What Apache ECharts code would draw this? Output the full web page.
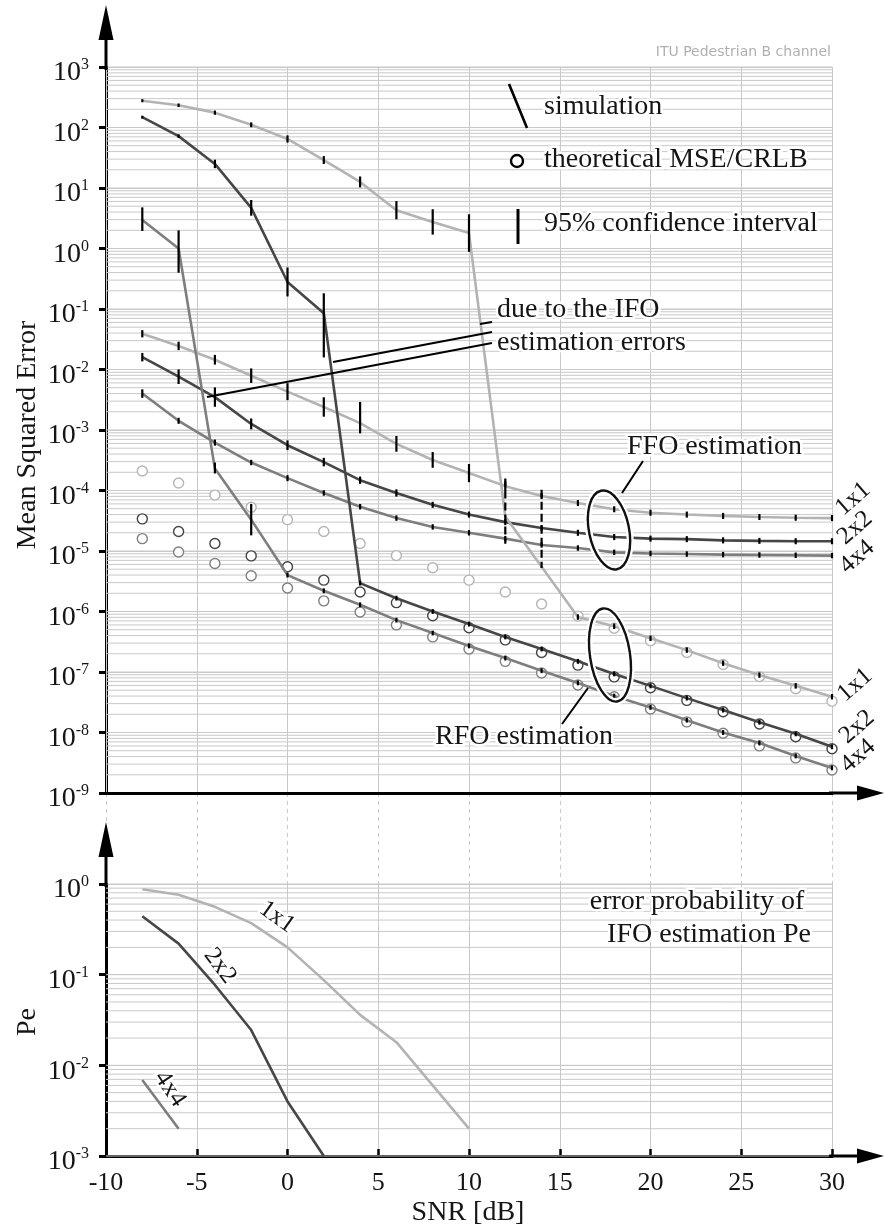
<!DOCTYPE html>
<html><head><meta charset="utf-8">
<script src="https://cdn.jsdelivr.net/npm/echarts@6/dist/echarts.min.js"></script>
<style>html,body{margin:0;padding:0;background:#fff}#c{width:884px;height:1229px}</style>
</head><body><div id="c"></div>
<script>
// ---------------- data ----------------
const snr = [-8,-6,-4,-2,0,2,4,6,8,10,12,14,16,18,20,22,24,26,28,30];
const xTicks = [-10,-5,0,5,10,15,20,25,30];

// RFO simulation (MSE)
const rfo1 = [277,233,176,111,64.6,29,12.6,4.3,2.75,1.8,3.7e-5,5.5e-6,8.1e-7,5.7e-7,3.6e-7,2.3e-7,1.4e-7,8.9e-8,5.9e-8,3.9e-8];
const rfo1Up = [0.025,0.03,0.035,0.04,0.06,0.065,0.09,0.15,0.21,0.31,0.63,1.27,0.045,0.045,0.045,0.045,0.045,0.045,0.045,0.045];
const rfo1Dn = [0.025,0.03,0.035,0.04,0.06,0.065,0.09,0.15,0.21,0.31,0.45,0.02,0.045,0.045,0.045,0.045,0.045,0.045,0.045,0.045];
const rfo1DashedAt = [12,14];
const rfo2 = [148,72,25,4.7,0.28,0.085,2.95e-6,1.66e-6,1.0e-6,6.2e-7,3.8e-7,2.4e-7,1.5e-7,9.3e-8,5.9e-8,3.7e-8,2.35e-8,1.48e-8,9.5e-9,5.8e-9];
const rfo2Up = [0.025,0.03,0.07,0.13,0.24,0.33,0.04,0.04,0.04,0.04,0.04,0.04,0.04,0.04,0.04,0.04,0.04,0.04,0.04,0.04];
const rfo2Dn = [0.025,0.03,0.07,0.13,0.24,0.73,0.04,0.04,0.04,0.04,0.04,0.04,0.04,0.04,0.04,0.04,0.04,0.04,0.04,0.04];
const rfo4 = [2.95,1.0,2.3e-4,3.3e-5,4.0e-6,2.2e-6,1.29e-6,7.2e-7,4.4e-7,2.7e-7,1.7e-7,1.05e-7,6.6e-8,4.0e-8,2.6e-8,1.6e-8,1.0e-8,6.7e-9,4.1e-9,2.6e-9];
const rfo4Up = [0.21,0.30,0.10,0.26,0.04,0.04,0.04,0.04,0.04,0.04,0.04,0.04,0.04,0.04,0.04,0.04,0.04,0.04,0.04,0.04];
const rfo4Dn = [0.18,0.40,0.08,0.26,0.04,0.04,0.04,0.04,0.04,0.04,0.04,0.04,0.04,0.04,0.04,0.04,0.04,0.04,0.04,0.04];

// FFO simulation (MSE)
const ffo1 = [0.039,0.0245,0.0145,7.9e-3,4.3e-3,2.4e-3,1.3e-3,5.9e-4,3.2e-4,1.94e-4,1.18e-4,8.1e-5,6.2e-5,4.9e-5,4.3e-5,4.0e-5,3.8e-5,3.65e-5,3.55e-5,3.5e-5];
const ffo1Up = [0.06,0.07,0.08,0.12,0.14,0.16,0.35,0.13,0.13,0.15,0.08,0.05,0.05,0.05,0.05,0.05,0.05,0.05,0.05,0.05];
const ffo1Dn = [0.06,0.07,0.08,0.12,0.14,0.16,0.17,0.13,0.13,0.15,0.08,0.05,0.05,0.05,0.05,0.05,0.05,0.05,0.05,0.05];
const ffo2 = [0.016,7.6e-3,3.5e-3,1.26e-3,5.6e-4,2.95e-4,1.48e-4,9.1e-5,5.8e-5,4.0e-5,3.0e-5,2.4e-5,2.0e-5,1.7e-5,1.6e-5,1.57e-5,1.5e-5,1.47e-5,1.45e-5,1.45e-5];
const ffo2Ci = [0.07,0.12,0.16,0.09,0.08,0.07,0.06,0.06,0.05,0.05,0.05,0.05,0.05,0.05,0.05,0.05,0.05,0.05,0.05,0.05];
const ffo4 = [4.0e-3,1.42e-3,6.2e-4,2.9e-4,1.6e-4,9.1e-5,5.4e-5,3.5e-5,2.5e-5,2.0e-5,1.6e-5,1.26e-5,1.12e-5,9.5e-6,9.1e-6,8.9e-6,8.7e-6,8.6e-6,8.5e-6,8.4e-6];
const ffo4Ci = [0.07,0.05,0.05,0.045,0.05,0.045,0.045,0.045,0.045,0.045,0.045,0.045,0.045,0.045,0.045,0.045,0.045,0.045,0.045,0.045];

// theoretical MSE / CRLB
const crlb1 = [2.1e-4,1.33e-4,8.4e-5,5.3e-5,3.3e-5,2.1e-5,1.33e-5,8.4e-6,5.3e-6,3.3e-6,2.1e-6,1.33e-6,8.4e-7,5.3e-7,3.3e-7,2.1e-7,1.33e-7,8.4e-8,5.3e-8,3.3e-8];
const crlb2 = [3.4e-5,2.1e-5,1.33e-5,8.3e-6,5.5e-6,3.3e-6,2.1e-6,1.4e-6,8.5e-7,5.4e-7,3.4e-7,2.1e-7,1.3e-7,8.3e-8,5.5e-8,3.4e-8,2.2e-8,1.38e-8,8.5e-9,5.4e-9];
const crlb4 = [1.6e-5,9.6e-6,6.2e-6,3.9e-6,2.45e-6,1.5e-6,9.8e-7,6.0e-7,3.8e-7,2.4e-7,1.5e-7,9.6e-8,6.1e-8,3.9e-8,2.45e-8,1.5e-8,9.7e-9,6.0e-9,3.8e-9,2.4e-9];

// IFO error probability Pe
const peSnr1 = [-8,-6,-4,-2,0,2,4,6,8,10];
const pe1 = [0.875,0.76,0.56,0.37,0.2,0.087,0.036,0.018,6.0e-3,2.0e-3];
const peSnr2 = [-8,-6,-4,-2,0,2];
const pe2 = [0.44,0.22,0.077,0.0245,4.0e-3,1.0e-3];
const peSnr4 = [-8,-6];
const pe4 = [6.9e-3,2.0e-3];

// ---------------- style ----------------
const C1 = '#b3b3b3', C2 = '#464646', C4 = '#7e7e7e';
const SERIF = '"Liberation Serif", "DejaVu Serif", serif';
const INK = '#151515';
const GRIDC = '#c9c9c9';

const chart = echarts.init(document.getElementById('c'), null, {renderer:'canvas'});

function pairs(xs, ys){ return xs.map((x,i)=>[x, ys[i]]); }
function minorVals(e0, e1){
  const out = [];
  for (let e = e0; e < e1; e++) for (let k = 2; k <= 9; k++) out.push([-10, k*Math.pow(10,e)]);
  return out;
}
function majorVals(e0, e1){
  const out = [];
  for (let e = e0; e <= e1; e++) out.push([-10, Math.pow(10,e)]);
  return out;
}
function ciData(ys, up, dn, dashedAt){
  return snr.map((x,i)=>[x, ys[i], up[i], dn[i], (dashedAt && dashedAt.indexOf(x) >= 0) ? 1 : 0]);
}
const ciAll = [].concat(
  ciData(rfo1, rfo1Up, rfo1Dn, rfo1DashedAt),
  ciData(rfo2, rfo2Up, rfo2Dn),
  ciData(rfo4, rfo4Up, rfo4Dn),
  ciData(ffo1, ffo1Up, ffo1Dn),
  ciData(ffo2, ffo2Ci, ffo2Ci),
  ciData(ffo4, ffo4Ci, ffo4Ci)
);

function gridLineRender(params, api){
  const v = api.value(1);
  const a = api.coord([xTicks[0], v]);
  const b = api.coord([xTicks[xTicks.length-1], v]);
  return {type:'line', shape:{x1:a[0], y1:a[1], x2:b[0], y2:b[1]}, style:{stroke:GRIDC, lineWidth:1}};
}
function ciRender(params, api){
  const x = api.value(0), v = api.value(1), up = api.value(2), dn = api.value(3), d = api.value(4);
  const a = api.coord([x, v*Math.pow(10, up)]);
  const b = api.coord([x, v/Math.pow(10, dn)]);
  return {type:'line', shape:{x1:a[0], y1:a[1], x2:b[0], y2:b[1]},
    style:{stroke:'#000', lineWidth:2.2, lineDash: d ? [8,4] : null}};
}

const logLabel = {
  fontFamily: SERIF, color: INK, margin: 17, padding:[12,0,0,0],
  formatter: v => '{b|10}{s|' + Math.round(Math.log10(v)) + '}',
  rich: {
    b: {fontSize: 28, fontFamily: SERIF, color: INK, lineHeight: 32},
    s: {fontSize: 16, fontFamily: SERIF, color: INK, lineHeight: 17, verticalAlign: 'top'}
  },
  showMinLabel: true, showMaxLabel: true
};
const axisBlack = {show:true, onZero:false, lineStyle:{color:'#000', width:3}};

function simLine(xs, ys, color, xi, yi){
  return {type:'line', xAxisIndex:xi, yAxisIndex:yi, data:pairs(xs, ys), symbol:'none', showSymbol:false,
    lineStyle:{color:color, width:2.6}, z:4, silent:true};
}
function circles(ys, color){
  return {type:'scatter', xAxisIndex:0, yAxisIndex:0, data:pairs(snr, ys), symbol:'circle', symbolSize:10,
    itemStyle:{color:'#fff', borderColor:color, borderWidth:1.4, opacity:1}, z:3, silent:true};
}

// ---------------- decorations ----------------
function txt(text, x, y, opt){
  opt = opt || {};
  return {type:'text', x:x, y:y, rotation: opt.rot || 0, z:50,
    style:{text:text, fill: opt.color || INK, font: (opt.size || 28) + 'px ' + (opt.family || SERIF),
      textAlign: opt.align || 'left', textVerticalAlign:'middle',
      stroke: opt.halo === false ? null : '#fff', lineWidth: opt.halo === false ? 0 : 5}};
}
function seg(x1,y1,x2,y2,w,color){
  return {type:'line', z:45, shape:{x1:x1,y1:y1,x2:x2,y2:y2}, style:{stroke:color||'#000', lineWidth:w||2}};
}
function poly(pts){ return {type:'polygon', z:45, shape:{points:pts}, style:{fill:'#000'}}; }
function lasso(cx, cy, rx, ry, rot){
  return [
    {type:'ellipse', x:cx, y:cy, rotation:rot, z:46, shape:{cx:0, cy:0, rx:rx, ry:ry}, style:{fill:null, stroke:'#fff', lineWidth:7}},
    {type:'ellipse', x:cx, y:cy, rotation:rot, z:47, shape:{cx:0, cy:0, rx:rx, ry:ry}, style:{fill:null, stroke:'#111', lineWidth:2.4}}
  ];
}

const graphics = [
  // axis extensions + arrowheads
  seg(106, 70, 106, 36, 3), poly([[106,5],[98.5,40],[113.5,40]]),
  seg(106, 887, 106, 853, 3), poly([[106,822],[98.5,857],[113.5,857]]),
  seg(829, 793, 860, 793, 3), poly([[884,793],[857,785.5],[857,800.5]]),
  seg(829, 1156, 860, 1156, 3), poly([[884,1156],[857,1148.5],[857,1163.5]]),
  // axis titles
  txt('Mean Squared Error', 28, 435, {rot: Math.PI/2, align:'center', halo:false}),
  txt('Pe', 28, 1022, {rot: Math.PI/2, align:'center', halo:false}),
  txt('SNR [dB]', 468, 1213, {align:'center', halo:false}),
  // header
  txt('ITU Pedestrian B channel', 831, 52, {align:'right', size:14, family:'"DejaVu Sans", sans-serif', color:'#b0b0b0', halo:false}),
  // legend
  seg(509, 84, 527, 128, 2.6),
  {type:'circle', z:45, shape:{cx:517, cy:161, r:6}, style:{fill:'#fff', stroke:'#000', lineWidth:2.4}},
  seg(518, 209, 518, 244, 3),
  txt('simulation', 544, 107),
  txt('theoretical MSE/CRLB', 544, 160),
  txt('95% confidence interval', 544, 224),
  // IFO annotation
  txt('due to the IFO', 497, 310),
  txt('estimation errors', 497, 343),
  seg(480, 324, 492, 322, 2),
  seg(333, 362, 492, 332, 2),
  seg(207, 397, 492, 343, 2),
  // FFO / RFO annotations
  txt('FFO estimation', 627, 447),
  seg(622, 493, 643, 461, 2),
  txt('RFO estimation', 435, 737),
  seg(562, 724, 588, 688, 2),
  // right labels
  txt('1x1', 853, 499, {rot: 0.72, align:'center', size:25, halo:false}),
  txt('2x2', 855, 528, {rot: 0.72, align:'center', size:25, halo:false}),
  txt('4x4', 857, 557, {rot: 0.72, align:'center', size:25, halo:false}),
  txt('1x1', 855, 685, {rot: 0.72, align:'center', size:25, halo:false}),
  txt('2x2', 857, 727, {rot: 0.72, align:'center', size:25, halo:false}),
  txt('4x4', 858, 756, {rot: 0.72, align:'center', size:25, halo:false}),
  // bottom plot labels
  txt('1x1', 277, 917, {rot: -0.62, align:'center', size:25}),
  txt('2x2', 220, 966, {rot: -0.92, align:'center', size:25}),
  txt('4x4', 170, 1089, {rot: -0.98, align:'center', size:25}),
  txt('error probability of', 697, 902, {align:'center'}),
  txt('IFO estimation Pe', 709, 935, {align:'center'})
].concat(lasso(609, 530, 20, 40, 0.2), lasso(610, 655, 20, 47, 0.15));

const option = {
  animation: false,
  backgroundColor: '#fff',
  textStyle: {fontFamily: SERIF},
  grid: [
    {left:106, top:67, width:726, height:726},
    {left:106, top:793, width:726, height:91},
    {left:106, top:884, width:726, height:272}
  ],
  xAxis: [
    {gridIndex:0, type:'value', min:-10, max:30, interval:5, axisLine:axisBlack, axisTick:{show:false},
      axisLabel:{show:false}, splitLine:{show:true, lineStyle:{color:GRIDC, width:1}}, z:1},
    {gridIndex:1, type:'value', min:-10, max:30, interval:5, axisLine:{show:false}, axisTick:{show:false},
      axisLabel:{show:false}, splitLine:{show:true, lineStyle:{color:GRIDC, width:1, type:[4,4]}}},
    {gridIndex:2, type:'value', min:-10, max:30, interval:5, axisLine:axisBlack,
      axisTick:{show:true, inside:true, length:7, lineStyle:{color:'#000', width:2.5}},
      axisLabel:{show:true, fontFamily:SERIF, fontSize:26, color:INK, margin:14},
      splitLine:{show:true, lineStyle:{color:GRIDC, width:1}}}
  ],
  yAxis: [
    {gridIndex:0, type:'log', logBase:10, min:1e-9, max:1e3, interval:1, splitNumber:12, axisLine:axisBlack,
      axisTick:{show:true, inside:false, length:7, lineStyle:{color:'#000', width:3}},
      axisLabel:logLabel, splitLine:{show:true, lineStyle:{color:GRIDC, width:1}}, minorTick:{show:false}},
    {gridIndex:1, type:'value', min:0, max:1, show:false},
    {gridIndex:2, type:'log', logBase:10, min:1e-3, max:1, interval:1, splitNumber:3, axisLine:axisBlack,
      axisTick:{show:true, inside:false, length:7, lineStyle:{color:'#000', width:3}},
      axisLabel:logLabel, splitLine:{show:true, lineStyle:{color:GRIDC, width:1}}}
  ],
  series: [
    {type:'custom', xAxisIndex:0, yAxisIndex:0, data:minorVals(-9,3).concat(majorVals(-9,3)), renderItem:gridLineRender, z:1, silent:true},
    {type:'custom', xAxisIndex:2, yAxisIndex:2, data:minorVals(-3,0).concat(majorVals(-3,0)), renderItem:gridLineRender, z:1, silent:true},
    {type:'custom', xAxisIndex:1, yAxisIndex:1, data:[], renderItem:gridLineRender, silent:true},
    circles(crlb1, '#b5b5b5'), circles(crlb2, '#444'), circles(crlb4, '#808080'),
    simLine(snr, ffo1, C1, 0, 0), simLine(snr, ffo2, C2, 0, 0), simLine(snr, ffo4, C4, 0, 0),
    simLine(snr, rfo1, C1, 0, 0), simLine(snr, rfo2, C2, 0, 0), simLine(snr, rfo4, C4, 0, 0),
    {type:'custom', xAxisIndex:0, yAxisIndex:0, data:ciAll, renderItem:ciRender, z:6, silent:true,
      encode:{x:0, y:1}},
    simLine(peSnr1, pe1, C1, 2, 2), simLine(peSnr2, pe2, C2, 2, 2), simLine(peSnr4, pe4, C4, 2, 2)
  ],
  graphic: graphics
};
chart.setOption(option);
</script></body></html>
